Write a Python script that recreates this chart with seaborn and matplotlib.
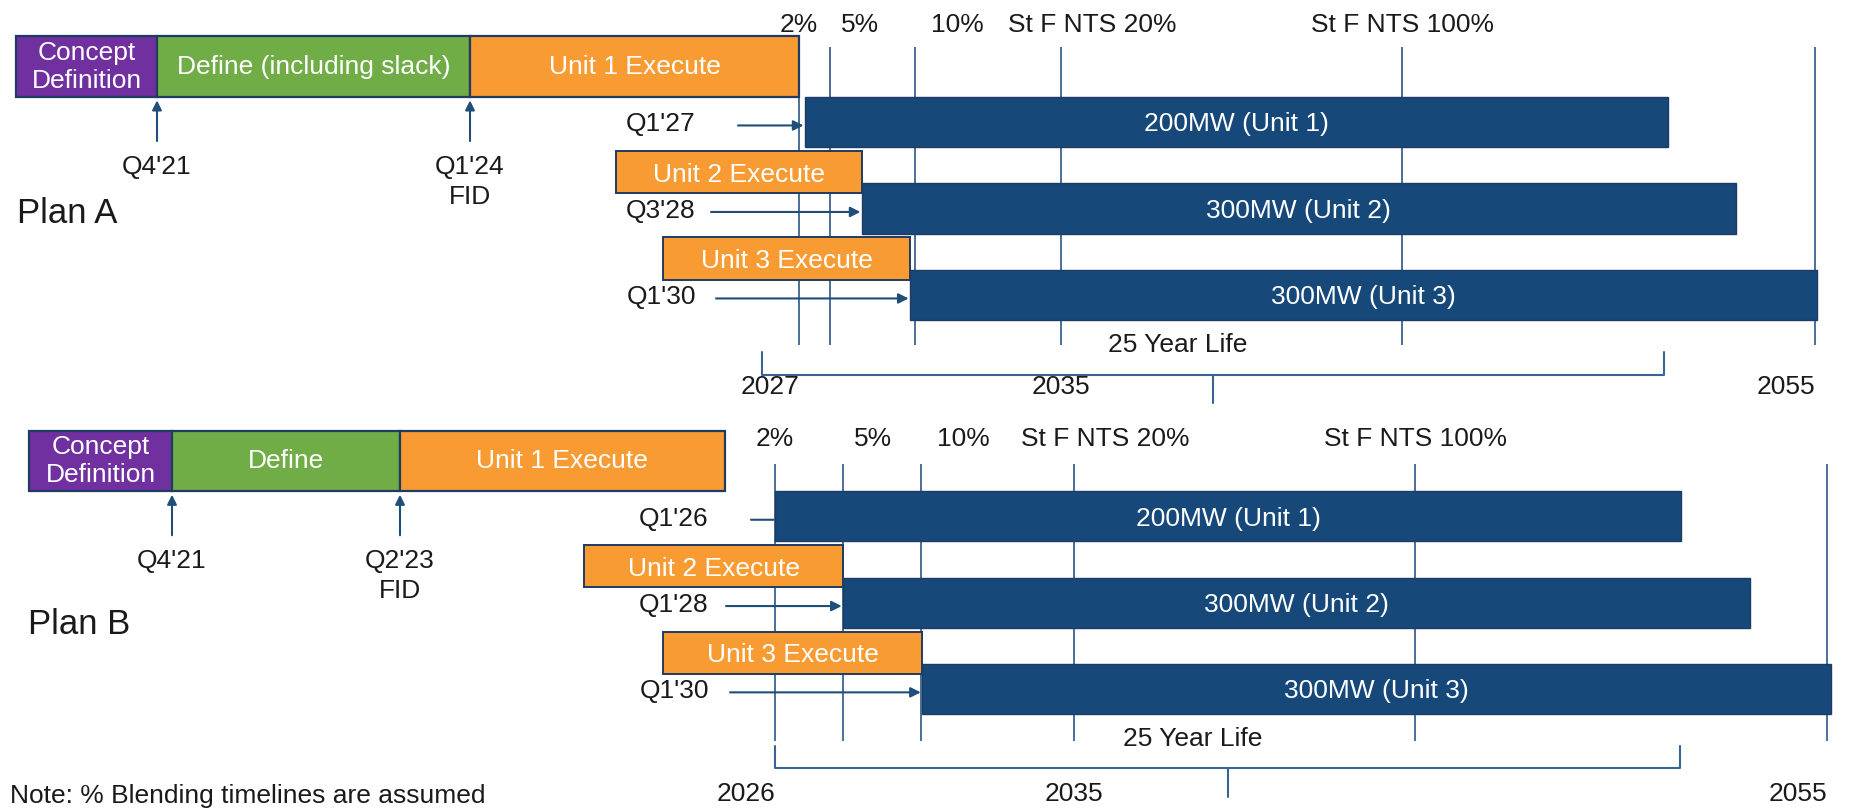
"""
Plan A / Plan B deployment timeline (slide-style Gantt chart).

The slide compresses the early years, so each plan gets a piecewise-linear
year scale (matplotlib FuncScale) instead of a plain linear axis.
"""

import matplotlib.pyplot as plt
import numpy as np
import seaborn as sns

sns.set_theme(style='white')
plt.rcParams['font.family'] = ['Liberation Sans', 'DejaVu Sans']

FIG_W_PX, FIG_H_PX = 1851, 809
FS = 19

# Colours
PURPLE = '#7030A0'
GREEN = '#70AD47'
ORANGE = '#F99B33'
NAVY = '#17487A'
EDGE = '#1F3B63'
GUIDE = '#3A6591'
ARROW = '#1F4E79'
INK = '#1A1A1A'

# ---- shared labels
PHASE_COLORS = [PURPLE, GREEN, ORANGE]
UNIT_LABELS = ['200MW (Unit 1)', '300MW (Unit 2)', '300MW (Unit 3)']
EXEC_LABELS = ['Unit 2 Execute', 'Unit 3 Execute']
BLEND_LABELS = ['2%', '5%', '10%', 'St F NTS 20%', 'St F NTS 100%']
LIFE_LABEL = '25 Year Life'
NOTE = 'Note: % Blending timelines are assumed'

# ---- Plan A (decimal years)
A_PHASES = ['Concept\nDefinition', 'Define (including slack)', 'Unit 1 Execute']
A_PHASE_START = [2020.75, 2021.75, 2024.0]
A_PHASE_END = [2021.75, 2024.0, 2027.0]
A_MILESTONES = ["Q4'21", "Q1'24\nFID"]
A_MILESTONE_YEARS = [2021.75, 2024.0]
A_ONLINE_LABELS = ["Q1'27", "Q3'28", "Q1'30"]
A_ONLINE = [2027.18, 2028.92, 2030.39]
A_RETIRE = [2051.1, 2052.9, 2055.05]
A_EXEC_START = [2025.33, 2025.76]
A_BLEND_YEARS = [2027.0, 2027.95, 2030.54, 2035.0, 2044.05]
A_YEAR_TICKS = [2027, 2035, 2055]
A_LIFE = [2026.66, 2051.0]

# ---- Plan B
B_PHASES = ['Concept\nDefinition', 'Define', 'Unit 1 Execute']
B_PHASE_START = [2020.75, 2021.75, 2023.25]
B_PHASE_END = [2021.75, 2023.25, 2025.63]
B_MILESTONES = ["Q4'21", "Q2'23\nFID"]
B_MILESTONE_YEARS = [2021.75, 2023.25]
B_ONLINE_LABELS = ["Q1'26", "Q1'28", "Q1'30"]
B_ONLINE = [2026.0, 2028.05, 2030.43]
B_RETIRE = [2051.12, 2052.95, 2055.1]
B_EXEC_START = [2024.6, 2025.18]
B_BLEND_YEARS = [2026.0, 2028.05, 2030.4, 2035.0, 2044.06]
B_YEAR_TICKS = [2026, 2035, 2055]
B_LIFE = [2026.0, 2051.1]

# ---- layout (slide geometry, not data)
LAYOUT_A = dict(knot_years=[2019.0, 2020.75, 2021.75, 2024.0, 2027.0, 2035.0, 2055.0, 2060.0],
                knot_px=[-227, 16, 157, 470, 799, 1061, 1815, 2004],
                row0_px=35.5, row_px=86.5, blend_label_r=-0.145, vline_r=(0.133, 3.58),
                plan_label_r=2.02, plan_label_px=17, year_label_r=4.04,
                online_label_px=661, leader_tail_px=[738, 711, 716],
                leader_style=['-|>', '-|>', '-|>'])
LAYOUT_B = dict(knot_years=[2019.0, 2020.75, 2021.75, 2023.25, 2026.0, 2035.0, 2055.0, 2060.0],
                knot_px=[-221, 29, 172, 400, 775, 1074, 1827, 2015],
                row0_px=430, row_px=86.3, blend_label_r=0.08, vline_r=(0.39, 3.6),
                plan_label_r=2.21, plan_label_px=28, year_label_r=4.19,
                online_label_px=674, leader_tail_px=[751, 726, 730],
                leader_style=['-', '-|>', '-|>'])
BLEND_NUDGE_PX = [0, 30, 42, 31, 0]
PHASE_R, PHASE_H = 0.36, 0.70
UNIT_H = 0.58
EXEC_OFFSET, EXEC_H = -0.42, 0.49
MILESTONE_BASE_R, MILESTONE_LINE_R = 1.6, 0.35
PT = 72 / 100  # points per pixel at dpi 100


def make_scale(knot_years, knot_px):
    ky = np.asarray(knot_years, dtype=float)
    kp = np.asarray(knot_px, dtype=float)

    def fwd(x):
        return np.interp(x, ky, kp)

    def inv(p):
        return np.interp(p, kp, ky)

    return fwd, inv


def draw_plan(ax, title, lay, phases, phase_start, phase_end, milestones, milestone_years,
              online_labels, online, retire, exec_start, blend_years, year_ticks, life):
    fwd, inv = make_scale(lay['knot_years'], lay['knot_px'])
    ax.set_xscale('function', functions=(fwd, inv))
    ax.set_xlim(inv(0), inv(FIG_W_PX))
    r_of = lambda px: (px - lay['row0_px']) / lay['row_px']
    ax.set_ylim(r_of(FIG_H_PX), r_of(0))
    ax.axis('off')

    def mid(a, b):
        return inv((fwd(a) + fwd(b)) / 2)

    rows = np.arange(1, len(online) + 1)

    # blending guides
    top, bottom = lay['vline_r']
    ax.vlines(blend_years + [year_ticks[-1]], top, bottom, color=GUIDE, lw=1.3, zorder=1)
    for lab, yr, dx in zip(BLEND_LABELS, blend_years, BLEND_NUDGE_PX):
        ax.annotate(lab, (yr, lay['blend_label_r']), xytext=(dx * PT, 0),
                    textcoords='offset points', ha='center', va='center_baseline',
                    fontsize=FS, color=INK)

    # project phases
    ax.barh(PHASE_R, np.subtract(phase_end, phase_start), left=phase_start, height=PHASE_H,
            color=PHASE_COLORS, edgecolor=EDGE, lw=1.6, zorder=3)
    for lab, s, e in zip(phases, phase_start, phase_end):
        ax.text(mid(s, e), PHASE_R, lab, ha='center', va='center', color='white',
                fontsize=FS, linespacing=1.2, zorder=4)

    for lab, yr in zip(milestones, milestone_years):
        ax.annotate('', xy=(yr, 0.75), xytext=(yr, 1.22),
                    arrowprops=dict(arrowstyle='-|>', color=ARROW, lw=1.5,
                                    shrinkA=0, shrinkB=0, mutation_scale=14))
        for i, line in enumerate(lab.split('\n')):
            ax.text(yr, MILESTONE_BASE_R + i * MILESTONE_LINE_R, line, ha='center',
                    va='baseline', fontsize=FS, color=INK)

    # operating life of each unit
    ax.barh(rows, np.subtract(retire, online), left=online, height=UNIT_H,
            color=NAVY, edgecolor=EDGE, lw=1, zorder=2)
    for r, lab, s, e in zip(rows, UNIT_LABELS, online, retire):
        ax.text(mid(s, e), r, lab, ha='center', va='center_baseline', color='white',
                fontsize=FS, zorder=4)

    # execute phases of units 2 and 3
    ex_rows = rows[1:] + EXEC_OFFSET
    ax.barh(ex_rows, np.subtract(online[1:], exec_start), left=exec_start, height=EXEC_H,
            color=ORANGE, edgecolor=EDGE, lw=1.4, zorder=3)
    for r, lab, s, e in zip(ex_rows, EXEC_LABELS, exec_start, online[1:]):
        ax.text(mid(s, e), r, lab, ha='center', va='center_baseline', color='white',
                fontsize=FS, zorder=4)

    # online dates with leaders
    for r, lab, yr, tail, style in zip(rows, online_labels, online,
                                       lay['leader_tail_px'], lay['leader_style']):
        ax.text(inv(lay['online_label_px']), r, lab, ha='center', va='center_baseline',
                fontsize=FS, color=INK)
        ax.annotate('', xy=(yr, r + 0.04), xytext=(inv(tail), r + 0.04),
                    arrowprops=dict(arrowstyle=style, color=ARROW, lw=1.5,
                                    shrinkA=0, shrinkB=1, mutation_scale=15), zorder=4)

    # life brace
    s, e = life
    m = mid(s, e)
    ax.plot([s, s, e, e], [3.66, 3.92, 3.92, 3.66], color=GUIDE, lw=1.5, zorder=1)
    ax.plot([m, m], [3.92, 4.25], color=GUIDE, lw=1.5, zorder=1)
    ax.annotate(LIFE_LABEL, (m, 3.55), xytext=(-35 * PT, 0), textcoords='offset points',
                ha='center', va='center_baseline', fontsize=FS, color=INK)

    for yr, ha in zip(year_ticks, ['right', 'center', 'right']):
        ax.text(yr, lay['year_label_r'], str(yr), ha=ha, va='center_baseline',
                fontsize=FS, color=INK)

    ax.text(inv(lay['plan_label_px']), lay['plan_label_r'], title, ha='left',
            va='center_baseline', fontsize=25, color=INK)


fig = plt.figure(figsize=(FIG_W_PX / 100, FIG_H_PX / 100), dpi=100)
fig.patch.set_facecolor('white')

ax_a = fig.add_axes([0, 0, 1, 1])
ax_a.patch.set_alpha(0)
draw_plan(ax_a, 'Plan A', LAYOUT_A, A_PHASES, A_PHASE_START, A_PHASE_END, A_MILESTONES,
          A_MILESTONE_YEARS, A_ONLINE_LABELS, A_ONLINE, A_RETIRE, A_EXEC_START,
          A_BLEND_YEARS, A_YEAR_TICKS, A_LIFE)

ax_b = fig.add_axes([0, 0, 1, 1])
ax_b.patch.set_alpha(0)
draw_plan(ax_b, 'Plan B', LAYOUT_B, B_PHASES, B_PHASE_START, B_PHASE_END, B_MILESTONES,
          B_MILESTONE_YEARS, B_ONLINE_LABELS, B_ONLINE, B_RETIRE, B_EXEC_START,
          B_BLEND_YEARS, B_YEAR_TICKS, B_LIFE)

fig.text(10 / FIG_W_PX, 1 - 793 / FIG_H_PX, NOTE, ha='left', va='center_baseline',
         fontsize=FS, color=INK)

fig.savefig('out.png', dpi=100)
